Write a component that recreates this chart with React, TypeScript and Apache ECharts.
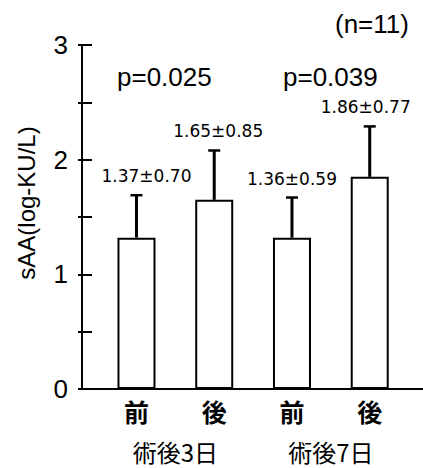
import React, { useEffect, useRef } from "react";
import * as echarts from "echarts";

const categories = ["前", "後", "前", "後"];
const groups = ["術後3日", "術後7日"];
const barValues = [1.32, 1.65, 1.32, 1.85];
const upperValues = [1.69, 2.08, 1.67, 2.29];
const meanLabels = ["1.37±0.70", "1.65±0.85", "1.36±0.59", "1.86±0.77"];
const pLabels = ["p=0.025", "p=0.039"];
const nLabel = "(n=11)";
const yName = "sAA(log-KU/L)";
const yTicks = [0, 1, 2, 3];

const SANS = "'Liberation Sans', Arial, sans-serif";
const CJK = "'Noto Sans CJK JP', sans-serif";

export default function App() {
  const ref = useRef<HTMLDivElement>(null);
  useEffect(() => {
    if (!ref.current) return;
    const chart = echarts.init(ref.current, null, { renderer: "svg" });
    const labelDx = [10, 4, 0, -4];
    const option: any = {
      animation: false,
      backgroundColor: "#ffffff",
      grid: [
        { left: 82, top: 45, width: 342, height: 344, show: false },
        { left: 97.6, top: 45, width: 311, height: 344, show: false },
      ],
      xAxis: [
        {
          gridIndex: 0, type: "value", min: 0, max: 1, position: "bottom",
          axisLine: { show: true, lineStyle: { color: "#000", width: 2 } },
          axisTick: { show: false }, axisLabel: { show: false }, splitLine: { show: false },
        },
        {
          gridIndex: 0, type: "value", min: 0, max: 1, position: "top",
          axisLine: { show: true, lineStyle: { color: "#000", width: 2 } },
          axisTick: { show: false }, axisLabel: { show: false }, splitLine: { show: false },
        },
        {
          gridIndex: 1, type: "category", data: categories, position: "bottom",
          axisLine: { show: false }, axisTick: { show: false },
          axisLabel: { fontSize: 25, lineHeight: 25, fontWeight: "bold", color: "#000", fontFamily: CJK, margin: 9 },
        },
        {
          gridIndex: 1, type: "category", data: groups, position: "bottom", offset: 0,
          axisLine: { show: false }, axisTick: { show: false },
          axisLabel: { fontSize: 24, lineHeight: 24, color: "#000", fontFamily: CJK, margin: 50 },
        },
      ],
      yAxis: [
        {
          gridIndex: 0, type: "value", min: 0, max: 3, interval: 0.5, position: "left",
          axisLine: { show: true, lineStyle: { color: "#000", width: 2 } },
          axisTick: { show: true, inside: true, length: 10, lineStyle: { color: "#000", width: 2 } },
          axisLabel: {
            fontSize: 26, color: "#000", fontFamily: SANS, margin: 14,
            formatter: (v: number) => (yTicks.includes(v) ? String(v) : ""),
          },
          splitLine: { show: false },
        },
        {
          gridIndex: 0, type: "value", min: 0, max: 3, interval: 0.5, position: "right",
          axisLine: { show: true, lineStyle: { color: "#000", width: 2 } },
          axisTick: { show: true, inside: true, length: 4, lineStyle: { color: "#000", width: 2 } },
          axisLabel: { show: false }, splitLine: { show: false },
        },
        { gridIndex: 1, type: "value", min: 0, max: 3, show: false },
      ],
      series: [
        {
          type: "bar", xAxisIndex: 2, yAxisIndex: 2, data: barValues, barWidth: 38,
          itemStyle: { color: "#fff", borderColor: "#000", borderWidth: 2 },
          z: 2,
        },
        {
          type: "custom", xAxisIndex: 2, yAxisIndex: 2, z: 3,
          data: barValues.map((v, i) => [i, v, upperValues[i]]),
          renderItem: (params: any, api: any) => {
            const i = api.value(0);
            const base = api.coord([i, api.value(1)]);
            const top = api.coord([i, api.value(2)]);
            const x = base[0];
            return {
              type: "group",
              children: [
                { type: "line", shape: { x1: x, y1: base[1], x2: x, y2: top[1] }, style: { stroke: "#000", lineWidth: 3 } },
                { type: "line", shape: { x1: x - 6, y1: top[1], x2: x + 6, y2: top[1] }, style: { stroke: "#000", lineWidth: 2.5 } },
                {
                  type: "text",
                  x: x + labelDx[params.dataIndex], y: top[1] - 19,
                  style: {
                    text: meanLabels[params.dataIndex], fill: "#000", fontSize: 17,
                    fontFamily: "'DejaVu Sans', sans-serif", align: "center", verticalAlign: "middle",
                  },
                },
              ],
            };
          },
        },
      ],
      graphic: [
        { type: "text", left: 117, top: 64, style: { text: pLabels[0], fontSize: 26, fontFamily: SANS, fill: "#000" } },
        { type: "text", left: 283, top: 64, style: { text: pLabels[1], fontSize: 26, fontFamily: SANS, fill: "#000" } },
        { type: "text", left: 335, top: 11, style: { text: nLabel, fontSize: 26, fontFamily: SANS, fill: "#000" } },
        {
          type: "text", x: 26, y: 203, rotation: Math.PI / 2,
          style: { text: yName, fontSize: 24, fontFamily: SANS, fill: "#000", align: "center", verticalAlign: "middle" },
        },
      ],
    };
    chart.setOption(option);
    return () => chart.dispose();
  }, []);
  return (
    <div
      ref={ref}
      style={{ position: "fixed", left: 0, top: 0, width: 423, height: 468, background: "#fff" }}
    />
  );
}
